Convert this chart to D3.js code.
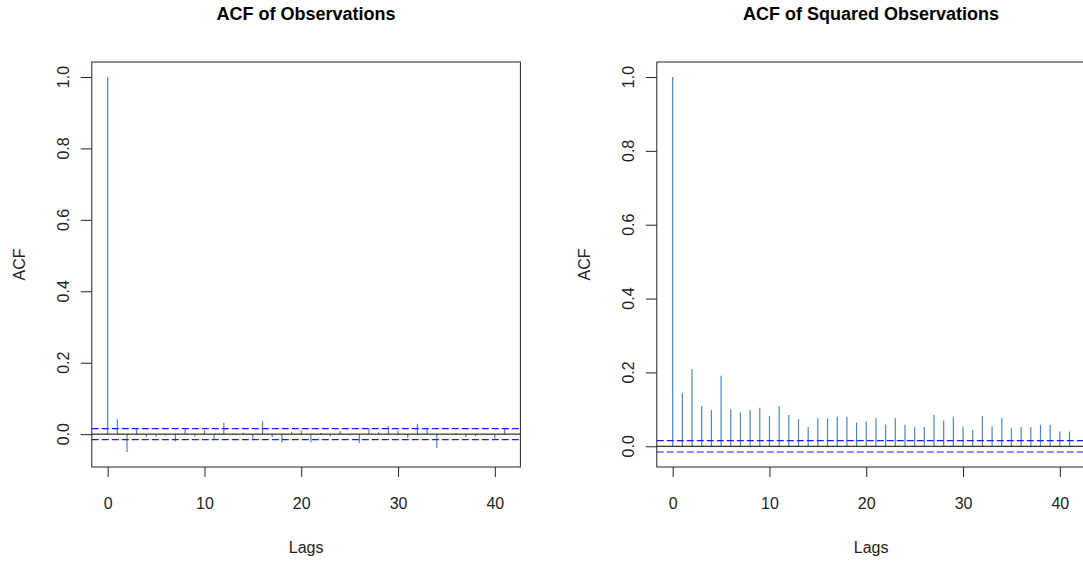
<!DOCTYPE html>
<html>
<head>
<meta charset="utf-8">
<script src="https://cdn.jsdelivr.net/npm/d3@7"></script>
<style>
  html, body { margin: 0; padding: 0; background: #fff; }
  svg { display: block; font-family: "Liberation Sans", Arial, sans-serif; }
</style>
</head>
<body>
<svg id="chart" width="1083" height="565"></svg>
<script>
// lags 0..41
const lags = [0,1,2,3,4,5,6,7,8,9,10,11,12,13,14,15,16,17,18,19,20,
              21,22,23,24,25,26,27,28,29,30,31,32,33,34,35,36,37,38,39,40,41];

const acfObs = [1.0, 0.042, -0.05, 0.016, -0.007, -0.007, -0.004, -0.02, 0.014, -0.007,
                0.011, -0.015, 0.032, 0.002, 0.004, -0.013, 0.036, -0.009, -0.024, 0.007,
                0.01, -0.023, 0.003, -0.006, 0.009, -0.003, -0.025, 0.015, 0.005, 0.023,
                0.01, -0.011, 0.029, 0.015, -0.039, 0.001, 0.003, -0.008, -0.006, -0.002,
                -0.012, 0.014];

const acfSq = [1.0, 0.144, 0.209, 0.109, 0.098, 0.191, 0.100, 0.092, 0.098, 0.104,
               0.082, 0.109, 0.085, 0.073, 0.052, 0.076, 0.076, 0.080, 0.080, 0.064,
               0.067, 0.076, 0.058, 0.076, 0.058, 0.052, 0.052, 0.085, 0.070, 0.079,
               0.052, 0.045, 0.082, 0.054, 0.076, 0.049, 0.052, 0.052, 0.058, 0.058,
               0.040, 0.040];

const ciBound = 0.0155;

const xTicks = [0, 10, 20, 30, 40];
const yTicks = [0, 0.2, 0.4, 0.6, 0.8, 1.0];
const yTickLabels = ["0.0", "0.2", "0.4", "0.6", "0.8", "1.0"];

const panels = [
  { title: "ACF of Observations", values: acfObs, left: 91.8 },
  { title: "ACF of Squared Observations", values: acfSq, left: 656.8 }
];

const boxW = 428.6, boxTop = 62, boxBottom = 467;
const svg = d3.select("#chart");

panels.forEach(p => {
  const g = svg.append("g");
  const x0 = p.left, x1 = p.left + boxW;

  const maxLag = d3.max(lags);
  const xScale = d3.scaleLinear()
      .domain([-0.04 * maxLag, 1.04 * maxLag])
      .range([x0, x1]);

  const lo = Math.min(d3.min(p.values), -ciBound);
  const hi = Math.max(d3.max(p.values), ciBound);
  const pad = (hi - lo) * 0.04;
  const yScale = d3.scaleLinear()
      .domain([lo - pad, hi + pad])
      .range([boxBottom, boxTop]);

  // title
  g.append("text")
      .attr("x", (x0 + x1) / 2)
      .attr("y", 20)
      .attr("text-anchor", "middle")
      .style("font-weight", "bold")
      .style("font-size", "18px")
      .style("fill", "#000")
      .text(p.title);

  // acf spikes
  g.selectAll("line.spike")
      .data(lags)
      .enter()
      .append("line")
      .attr("class", "spike")
      .attr("x1", d => xScale(d))
      .attr("x2", d => xScale(d))
      .attr("y1", yScale(0))
      .attr("y2", (d, i) => yScale(p.values[i]))
      .attr("stroke", "#4a86c0")
      .attr("stroke-width", 1.2);

  // zero line
  g.append("line")
      .attr("x1", x0).attr("x2", x1)
      .attr("y1", yScale(0)).attr("y2", yScale(0))
      .attr("stroke", "#000")
      .attr("stroke-width", 1);

  // confidence bounds
  [ciBound, -ciBound].forEach(c => {
    g.append("line")
        .attr("x1", x0).attr("x2", x1)
        .attr("y1", yScale(c)).attr("y2", yScale(c))
        .attr("stroke", "#1a1aff")
        .attr("stroke-width", 1.2)
        .attr("stroke-dasharray", "7,3");
  });

  // box
  g.append("rect")
      .attr("x", x0).attr("y", boxTop)
      .attr("width", boxW).attr("height", boxBottom - boxTop)
      .attr("fill", "none")
      .attr("stroke", "#222")
      .attr("stroke-width", 1);

  // x axis
  const xAxis = g.append("g")
      .attr("transform", `translate(0,${boxBottom})`)
      .call(d3.axisBottom(xScale).tickValues(xTicks).tickSize(10).tickPadding(21));
  xAxis.select(".domain").remove();
  xAxis.selectAll("line").attr("stroke", "#222");
  xAxis.selectAll("text")
      .style("font-size", "16px")
      .style("font-family", "Liberation Sans, Arial, sans-serif")
      .style("fill", "#222");

  // y axis
  const yAxis = g.append("g")
      .attr("transform", `translate(${x0},0)`)
      .call(d3.axisLeft(yScale).tickValues(yTicks).tickSize(11).tickFormat(""));
  yAxis.select(".domain").remove();
  yAxis.selectAll("line").attr("stroke", "#222");

  g.selectAll("text.ylab")
      .data(yTicks)
      .enter()
      .append("text")
      .attr("class", "ylab")
      .attr("transform", d => `translate(${x0 - 23},${yScale(d)}) rotate(-90)`)
      .attr("text-anchor", "middle")
      .style("font-size", "16px")
      .style("fill", "#222")
      .text((d, i) => yTickLabels[i]);

  // axis titles
  g.append("text")
      .attr("x", (x0 + x1) / 2)
      .attr("y", 553)
      .attr("text-anchor", "middle")
      .style("font-size", "16px")
      .style("fill", "#222")
      .text("Lags");

  g.append("text")
      .attr("transform", `translate(${x0 - 67},${(boxTop + boxBottom) / 2}) rotate(-90)`)
      .attr("text-anchor", "middle")
      .style("font-size", "16px")
      .style("fill", "#222")
      .text("ACF");
});
</script>
</body>
</html>
